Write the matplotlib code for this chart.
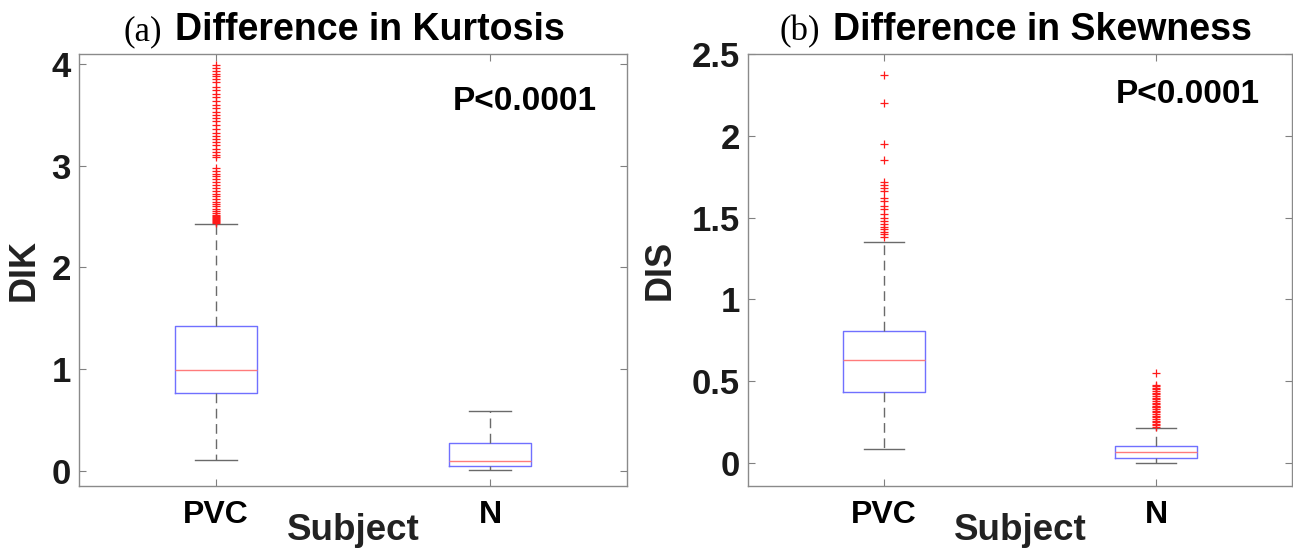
import matplotlib
matplotlib.use("Agg")
import matplotlib.pyplot as plt

# ---------------- data ----------------
groups = ["PVC", "N"]

# Panel (a): Difference in Kurtosis (DIK)
dik_q1 = [0.767, 0.050]
dik_med = [0.993, 0.098]
dik_q3 = [1.425, 0.275]
dik_whislo = [0.108, 0.010]
dik_whishi = [2.430, 0.590]
dik_fliers_pvc = [3.99, 3.96, 3.93, 3.90, 3.88, 3.85, 3.82, 3.78, 3.75, 3.71,
                  3.68, 3.64, 3.60, 3.57, 3.53, 3.50, 3.47, 3.44, 3.40, 3.36,
                  3.32, 3.29, 3.26, 3.23, 3.20, 3.17, 3.14, 3.11, 3.09,
                  2.98, 2.95, 2.92, 2.90, 2.87, 2.84, 2.81, 2.78, 2.75, 2.72,
                  2.70, 2.67, 2.64, 2.62, 2.60, 2.58, 2.56, 2.54, 2.52, 2.51,
                  2.50, 2.49, 2.48, 2.47, 2.46, 2.45, 2.44]
dik_fliers_n = []

# Panel (b): Difference in Skewness (DIS)
dis_q1 = [0.433, 0.030]
dis_med = [0.628, 0.067]
dis_q3 = [0.810, 0.104]
dis_whislo = [0.085, 0.000]
dis_whishi = [1.354, 0.213]
dis_fliers_pvc = [2.37, 2.20, 1.95, 1.85, 1.72, 1.70, 1.68, 1.66, 1.62, 1.60,
                  1.57, 1.55, 1.52, 1.50, 1.48, 1.46, 1.44, 1.43, 1.41, 1.40, 1.38]
dis_fliers_n = [0.55, 0.48, 0.47, 0.46, 0.45, 0.44, 0.43, 0.42, 0.41, 0.40,
                0.39, 0.38, 0.37, 0.36, 0.35, 0.345, 0.34, 0.33, 0.32, 0.31,
                0.30, 0.29, 0.28, 0.27, 0.26, 0.25, 0.24, 0.23, 0.22]

dik_ticks = [0, 1, 2, 3, 4]
dik_ticklabels = ["0", "1", "2", "3", "4"]
dis_ticks = [0, 0.5, 1, 1.5, 2, 2.5]
dis_ticklabels = ["0", "0.5", "1", "1.5", "2", "2.5"]

p_text = "P<0.0001"

# ---------------- styling ----------------
SANS = ["Liberation Sans", "DejaVu Sans"]
SERIF = ["Liberation Serif", "DejaVu Serif"]
plt.rcParams["font.family"] = SANS

fig = plt.figure(figsize=(12.93, 5.51), dpi=100)
W, H = 1293, 551


def px_axes(l, t, r, b):
    return fig.add_axes([l / W, 1 - b / H, (r - l) / W, (b - t) / H])


def build_stats(q1, med, q3, lo, hi, fliers_list):
    stats = []
    for i in range(len(groups)):
        stats.append(dict(q1=q1[i], med=med[i], q3=q3[i], whislo=lo[i],
                          whishi=hi[i], fliers=fliers_list[i], label=groups[i]))
    return stats


def draw(ax, stats, ylim, ticks, ticklabels, letter, title, ylabel,
         ylab_x, ptxt_xy, title_x):
    ax.bxp(stats, positions=[1, 2], widths=0.3, capwidths=0.15,
           boxprops=dict(color="#7070ff", linewidth=1.0),
           medianprops=dict(color="#ff7b7b", linewidth=1.0),
           whiskerprops=dict(color="#6a6a6a", linewidth=1.0,
                             linestyle=(0, (7, 4))),
           capprops=dict(color="#6a6a6a", linewidth=1.0),
           flierprops=dict(marker="+", markeredgecolor="#ff1a1a",
                           markersize=6, markeredgewidth=0.9,
                           linestyle="none"))
    ax.set_xlim(0.5, 2.5)
    ax.set_ylim(*ylim)
    ax.set_yticks(ticks)
    ax.set_yticklabels(ticklabels, fontsize=25, fontweight="bold",
                       color="#1a1a1a")
    ax.set_xticks([1, 2])
    ax.set_xticklabels(groups, fontsize=23, fontweight="bold")
    ax.tick_params(axis="both", direction="in", length=5, width=0.8,
                   color="#808080", top=True, right=True)
    ax.tick_params(axis="y", pad=6)
    ax.tick_params(axis="x", pad=10)
    for s in ax.spines.values():
        s.set_color("#8a8a8a")
        s.set_linewidth(1.0)
    ax.set_xlabel("Subject", fontsize=26.5, fontweight="bold", color="#222222")
    ax.xaxis.set_label_coords(0.5, -0.062)
    ax.set_ylabel(ylabel, fontsize=26, fontweight="bold", color="#222222")
    ax.yaxis.set_label_coords(ylab_x, 0.5)
    ax.text(ptxt_xy[0], ptxt_xy[1], p_text, transform=ax.transAxes,
            ha="right", va="baseline", fontsize=24, fontweight="bold")
    ax.text(title_x - 0.012, 1.032, letter, transform=ax.transAxes,
            ha="right", va="baseline", fontsize=25, family=SERIF)
    ax.text(title_x + 0.012, 1.032, title, transform=ax.transAxes,
            ha="left", va="baseline", fontsize=27, fontweight="bold")


ax1 = px_axes(79, 54, 627, 486)
draw(ax1,
     build_stats(dik_q1, dik_med, dik_q3, dik_whislo, dik_whishi,
                 [dik_fliers_pvc, dik_fliers_n]),
     (-0.15, 4.1), dik_ticks, dik_ticklabels,
     "(a)", "Difference in Kurtosis", "DIK",
     -0.068, (0.945, 0.870), 0.163)

ax2 = px_axes(748, 54, 1292, 486)
draw(ax2,
     build_stats(dis_q1, dis_med, dis_q3, dis_whislo, dis_whishi,
                 [dis_fliers_pvc, dis_fliers_n]),
     (-0.14, 2.5), dis_ticks, dis_ticklabels,
     "(b)", "Difference in Skewness", "DIS",
     -0.129, (0.941, 0.887), 0.145)

fig.savefig("out.png", dpi=100)
